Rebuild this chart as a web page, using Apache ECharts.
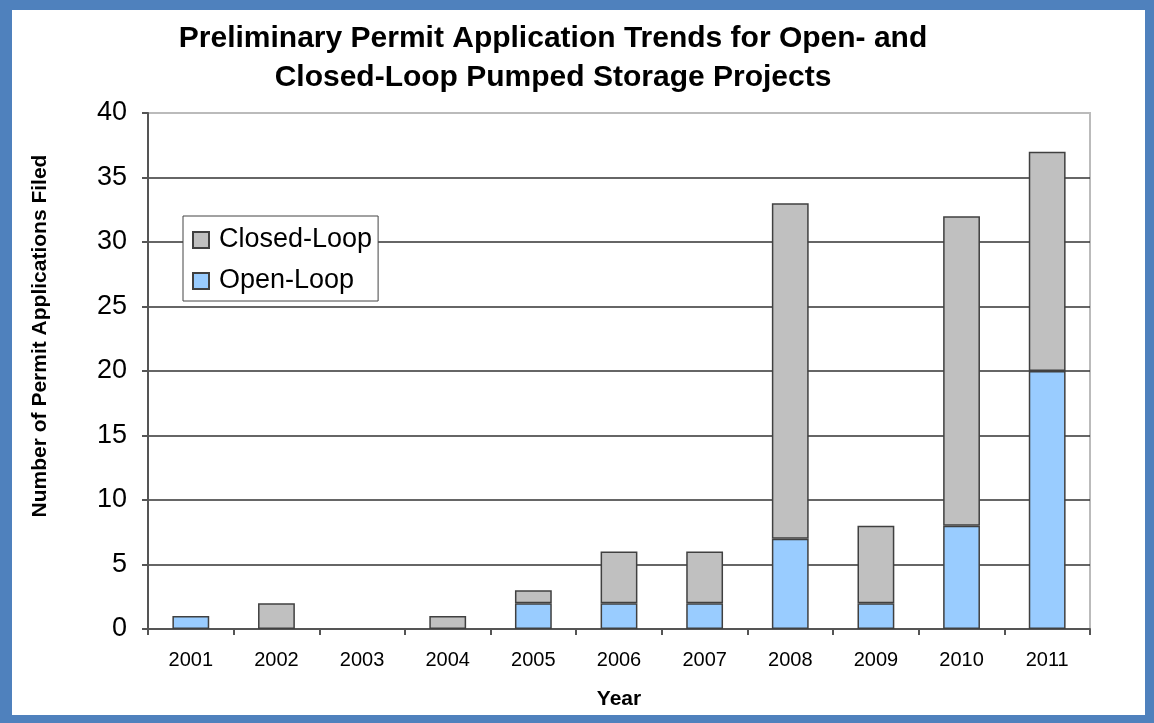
<!DOCTYPE html>
<html>
<head>
<meta charset="utf-8">
<script src="https://cdn.jsdelivr.net/npm/echarts@6/dist/echarts.min.js"></script>
<style>
html,body{margin:0;padding:0;background:#fff;}
#chart{position:absolute;left:0;top:0;width:1154px;height:723px;}
#frame{position:absolute;left:0;top:0;width:1154px;height:723px;box-sizing:border-box;
border-style:solid;border-color:#4F81BD;border-width:10px 9px 8px 12px;pointer-events:none;}
</style>
</head>
<body>
<div id="chart"></div>
<div id="frame"></div>
<script>
const years = ['2001','2002','2003','2004','2005','2006','2007','2008','2009','2010','2011'];
const openLoop = [1,0,0,0,2,2,2,7,2,8,20];
const closedLoop = [0,2,0,1,1,4,4,26,6,24,17];
const titleText = 'Preliminary Permit Application Trends for Open- and\nClosed-Loop Pumped Storage Projects';
const yName = 'Number of Permit Applications Filed';
const xName = 'Year';

// zero-height segments are not drawn
const noZero = arr => arr.map(v => v === 0 ? null : v);

const font = 'Liberation Sans, Arial, sans-serif';
const chart = echarts.init(document.getElementById('chart'));
chart.setOption({
  animation: false,
  title: {
    text: titleText,
    left: 548, top: 14, textAlign: 'center',
    textStyle: {fontFamily: font, fontSize: 30, fontWeight: 'bold', color: '#000', lineHeight: 39}
  },
  legend: {
    orient: 'vertical', left: 183, top: 216,
    data: ['Closed-Loop','Open-Loop'],
    backgroundColor: '#fff', borderColor: '#444', borderWidth: 1,
    padding: [9, 6, 5, 9], itemGap: 11, itemWidth: 16, itemHeight: 16, itemTextGap: 10,
    icon: 'rect',
    textStyle: {fontFamily: font, fontSize: 27, color: '#000', lineHeight: 30, padding: [0, 0, 0, 5]}
  },
  grid: {left: 148, top: 113, right: 64, bottom: 94, show: true, borderColor: '#bbbbbb', borderWidth: 2, containLabel: false},
  xAxis: {
    type: 'category', data: years,
    name: xName, nameLocation: 'middle', nameGap: 60,
    nameTextStyle: {fontFamily: font, fontSize: 21, fontWeight: 'bold', color: '#000'},
    axisLine: {lineStyle: {color: '#555', width: 2}},
    axisTick: {show: true, alignWithLabel: false, length: 6, lineStyle: {color: '#555', width: 2}},
    axisLabel: {fontFamily: font, fontSize: 20, color: '#000', margin: 21}
  },
  yAxis: {
    type: 'value', min: 0, max: 40, interval: 5,
    name: yName, nameLocation: 'middle', nameGap: 97, nameRotate: 90,
    nameTextStyle: {fontFamily: font, fontSize: 21, fontWeight: 'bold', color: '#000', padding: [0, 0, 0, 70]},
    axisLine: {show: true, lineStyle: {color: '#555', width: 2}},
    axisTick: {show: true, length: 6, lineStyle: {color: '#555', width: 2}},
    axisLabel: {fontFamily: font, fontSize: 27, color: '#000', margin: 21},
    splitLine: {show: true, lineStyle: {width: 1.5, color: ['#333','#333','#333','#333','#333','#333','#333','#333','#bbbbbb']}}
  },
  series: [
    {name: 'Open-Loop', type: 'bar', stack: 'total', data: noZero(openLoop), barWidth: '43%',
     itemStyle: {color: '#99CCFF', borderColor: '#404040', borderWidth: 1.5}},
    {name: 'Closed-Loop', type: 'bar', stack: 'total', data: noZero(closedLoop), barWidth: '43%',
     itemStyle: {color: '#C0C0C0', borderColor: '#404040', borderWidth: 1.5}}
  ]
});
</script>
</body>
</html>
